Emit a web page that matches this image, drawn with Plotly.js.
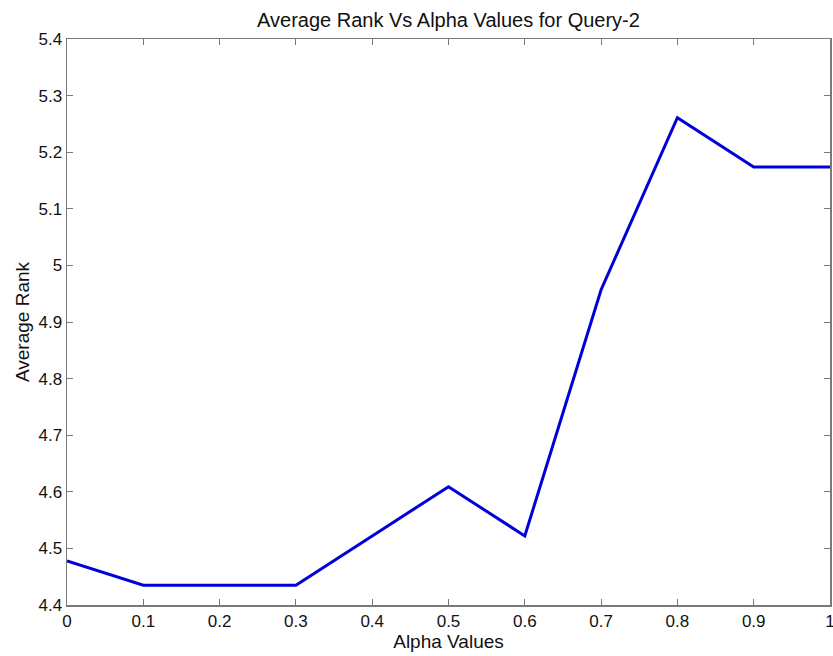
<!DOCTYPE html>
<html>
<head>
<meta charset="utf-8">
<script src="https://cdn.plot.ly/plotly-3.0.1.min.js"></script>
<style>html,body{margin:0;padding:0;background:#fff;}#chart{width:833px;height:656px;}</style>
</head>
<body>
<div id="chart"></div>
<script>
const alphaValues = [0, 0.1, 0.2, 0.3, 0.4, 0.5, 0.6, 0.7, 0.8, 0.9, 1.0];
const averageRank = [4.478, 4.435, 4.435, 4.435, 4.522, 4.609, 4.522, 4.957, 5.261, 5.174, 5.174];
const xTickVals = [0, 0.1, 0.2, 0.3, 0.4, 0.5, 0.6, 0.7, 0.8, 0.9, 1];
const xTickText = ['0', '0.1', '0.2', '0.3', '0.4', '0.5', '0.6', '0.7', '0.8', '0.9', '1'];
const yTickVals = [4.4, 4.5, 4.6, 4.7, 4.8, 4.9, 5.0, 5.1, 5.2, 5.3, 5.4];
const yTickText = ['4.4', '4.5', '4.6', '4.7', '4.8', '4.9', '5', '5.1', '5.2', '5.3', '5.4'];

const fam = 'Liberation Sans, Arial, sans-serif';
const tickFont = {family: fam, size: 17, color: '#111'};
const labelFont = {family: fam, size: 19, color: '#111'};
const titleFont = {family: fam, size: 20, color: '#111'};
const axisCommon = {
  showgrid: false, zeroline: false, showline: true, linecolor: '#7a7a7a', linewidth: 1.5,
  mirror: 'allticks', ticks: 'inside', ticklen: 6, tickcolor: '#7a7a7a', tickwidth: 1,
  tickfont: tickFont, automargin: false
};
Plotly.newPlot('chart', [{
  x: alphaValues, y: averageRank, type: 'scatter', mode: 'lines',
  line: {color: 'rgb(0,0,215)', width: 3}, hoverinfo: 'x+y'
}], {
  width: 833, height: 656,
  margin: {l: 67, r: 3, t: 39, b: 51},
  paper_bgcolor: '#fff', plot_bgcolor: '#fff',
  font: tickFont,
  showlegend: false,
  title: {text: 'Average Rank Vs Alpha Values for Query-2', font: titleFont, xref: 'paper', x: 0.5, xanchor: 'center', yref: 'container', y: 0.969, yanchor: 'middle'},
  xaxis: Object.assign({}, axisCommon, {range: [0, 1], tickvals: xTickVals, ticktext: xTickText,
    ticklabeloverflow: 'allow',
    title: {text: 'Alpha Values', font: labelFont, standoff: 2}}),
  yaxis: Object.assign({}, axisCommon, {range: [4.4, 5.4], tickvals: yTickVals, ticktext: yTickText,
    title: {text: 'Average Rank', font: labelFont, standoff: 4}})
}, {displayModeBar: false, staticPlot: true});
</script>
</body>
</html>
